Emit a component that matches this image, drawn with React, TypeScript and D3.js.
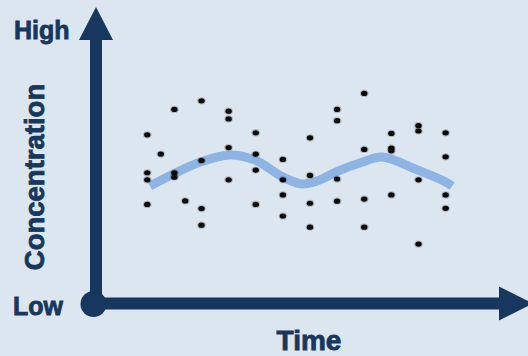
import React from "react";
import * as d3 from "d3";

// Scatter observations: time index and concentration value
const pointTime = [
  2, 2, 2, 2,
  2.5,
  3, 3, 3,
  3.4,
  4, 4, 4, 4,
  5, 5, 5, 5,
  6, 6, 6, 6,
  7, 7, 7, 7,
  8, 8, 8, 8,
  9, 9, 9, 9,
  10, 10, 10, 10,
  11, 11, 11, 11,
  12, 12, 12, 12,
  13, 13, 13, 13,
];
const pointConc = [
  5.68, 4.4, 4.16, 3.33,
  5.03,
  6.54, 4.4, 4.25,
  3.45,
  6.83, 4.81, 3.19, 2.63,
  6.48, 6.22, 5.25, 4.16,
  5.75, 5.03, 4.49, 3.33,
  4.85, 4.16, 3.65, 2.94,
  5.58, 4.31, 3.37, 2.56,
  6.54, 6.16, 4.19, 3.44,
  7.08, 5.19, 3.51, 2.56,
  5.73, 5.23, 5.14, 3.65,
  5.99, 5.81, 4.16, 1.99,
  5.75, 4.94, 3.65, 3.2,
];

// Trend curve
const trendTime = [2.1, 2.95, 3.98, 5.05, 5.97, 6.97, 7.71, 8.37, 8.99, 9.97, 10.65, 11.98, 12.98, 13.24];
const trendConc = [3.95, 4.35, 4.77, 5.0, 4.83, 4.27, 4.02, 4.16, 4.44, 4.77, 4.93, 4.49, 4.1, 3.95];

const yLabels = ["High", "Low"];
const xTitle = "Time";
const yTitle = "Concentration";

const W = 528;
const H = 356;
const NAVY = "#17375e";
const BG = "#dce6f1";
const CURVE = "#8db4e2";

export default function App() {
  const x = d3.scaleLinear().domain([0, 16]).range([93, 527]);
  const y = d3.scaleLinear().domain([0, 10]).range([303, 7]);

  const axisX = 96;
  const axisY = 303.5;

  const trend = trendTime.map((t, i) => [t, trendConc[i]] as [number, number]);
  const line = d3
    .line<[number, number]>()
    .x((d) => x(d[0]))
    .y((d) => y(d[1]))
    .curve(d3.curveCatmullRom.alpha(0.5));

  const font = "'Liberation Sans', Arial, sans-serif";

  return (
    <svg
      width={W}
      height={H}
      style={{ position: "fixed", left: 0, top: 0, display: "block" }}
    >
      <rect x={0} y={0} width={W} height={H} fill={BG} />

      {/* trend curve */}
      <path d={line(trend) || ""} fill="none" stroke={CURVE} strokeWidth={9} strokeLinecap="butt" />

      {/* scatter points */}
      {pointTime.map((t, i) => (
        <g key={i}>
          <ellipse cx={x(t)} cy={y(pointConc[i])} rx={4.3} ry={3.6} fill="rgba(0,0,0,0.2)" />
          <ellipse cx={x(t)} cy={y(pointConc[i])} rx={3.2} ry={2.6} fill="#0a0a0a" />
        </g>
      ))}

      {/* axes */}
      <line x1={axisX} y1={axisY} x2={axisX} y2={40} stroke={NAVY} strokeWidth={12} />
      <polygon points={`${axisX},7 ${axisX - 17},40 ${axisX + 17},40`} fill={NAVY} />
      <line x1={axisX} y1={axisY} x2={499} y2={axisY} stroke={NAVY} strokeWidth={12} />
      <polygon points={`533,${axisY} 499,${axisY - 17} 499,${axisY + 17}`} fill={NAVY} />
      <circle cx={93.5} cy={304} r={13} fill={NAVY} />

      {/* labels */}
      <text x={14} y={39} fontFamily={font} fontWeight="bold" fontSize={25} fill={NAVY} stroke={NAVY} strokeWidth={0.8}>
        {yLabels[0]}
      </text>
      <text x={13} y={315} fontFamily={font} fontWeight="bold" fontSize={25} fill={NAVY} stroke={NAVY} strokeWidth={0.8}>
        {yLabels[1]}
      </text>
      <text x={309} y={350} textAnchor="middle" fontFamily={font} fontWeight="bold" fontSize={28} fill={NAVY} stroke={NAVY} strokeWidth={0.8}>
        {xTitle}
      </text>
      <text
        transform="translate(44,177) rotate(-90)"
        textAnchor="middle"
        fontFamily={font}
        fontWeight="bold"
        fontSize={27.5}
        fill={NAVY}
        stroke={NAVY}
        strokeWidth={0.8}
      >
        {yTitle}
      </text>
    </svg>
  );
}
